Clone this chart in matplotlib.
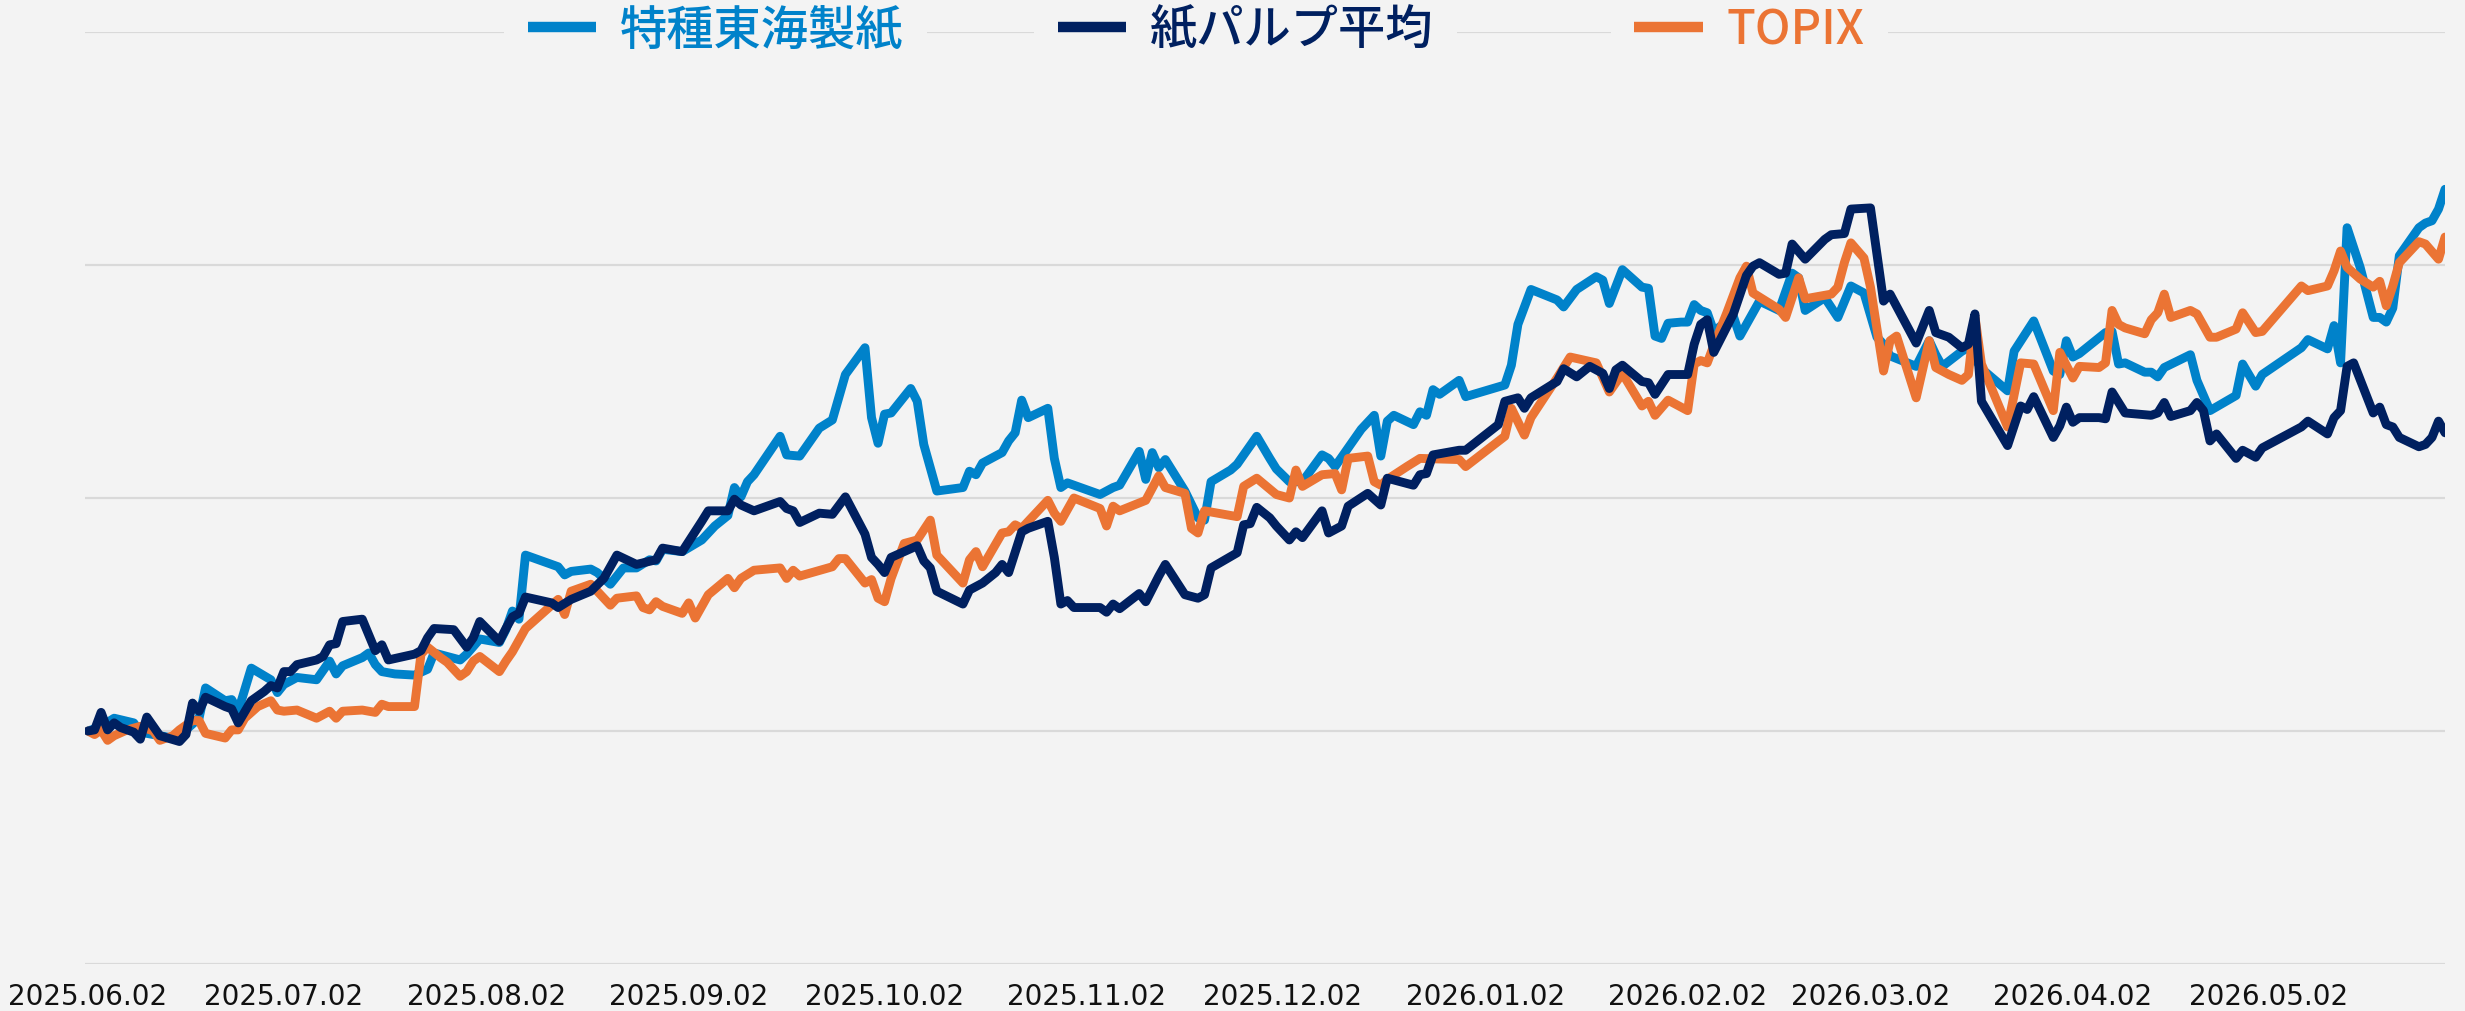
import matplotlib
matplotlib.use('Agg')
import matplotlib.pyplot as plt
import matplotlib.dates as mdates
from matplotlib.font_manager import FontProperties
from matplotlib.lines import Line2D
import pandas as pd

# start of the comparison (index = 100), days counted from here
start = pd.Timestamp('2025-06-02')

labels = ['特種東海製紙', '紙パルプ平均', 'TOPIX']
colors = ['#0082ca', '#002060', '#eb7434']

# 特種東海製紙
tokai_days = [0, 2, 4, 7, 8, 12, 14, 15, 17, 18,
              21, 22, 23, 25, 28, 29, 30, 32, 35, 37,
              38, 39, 42, 43, 44, 45, 47, 50, 52, 53,
              57, 58, 60, 63, 64, 65, 66, 67, 72, 73,
              74, 77, 78, 80, 82, 84, 86, 87, 88, 91,
              94, 96, 98, 99, 100, 101, 102, 106, 107, 109,
              112, 114, 116, 119, 120, 121, 122, 123, 126, 127,
              128, 130, 134, 135, 136, 137, 140, 141, 142, 143,
              144, 147, 148, 149, 150, 155, 157, 158, 161, 162,
              163, 164, 165, 168, 170, 171, 172, 175, 176, 179,
              181, 182, 184, 186, 189, 190, 191, 193, 195, 197,
              198, 199, 200, 203, 204, 205, 206, 207, 210, 211,
              217, 218, 219, 221, 225, 226, 228, 231, 232, 233,
              235, 238, 239, 240, 241, 242, 244, 245, 246, 247,
              248, 249, 252, 253, 256, 259, 261, 262, 263, 266,
              268, 270, 272, 274, 275, 276, 280, 282, 283, 284,
              287, 288, 290, 294, 295, 298, 301, 302, 303, 304,
              305, 309, 310, 311, 312, 315, 316, 317, 318, 322,
              323, 325, 329, 330, 332, 333, 339, 340, 343, 344,
              345, 346, 348, 350, 351, 352, 353, 354, 357, 358,
              359, 360, 361]
tokai_vals = [100.0, 100.4, 101.1, 100.7, 99.9, 99.5, 99.2, 100.1, 101.1, 103.7,
              102.6, 102.7, 101.7, 105.4, 104.4, 103.3, 104.0, 104.6, 104.4, 106.0,
              104.9, 105.6, 106.3, 106.7, 105.7, 105.1, 104.9, 104.8, 105.3, 106.7,
              106.1, 106.6, 107.9, 107.6, 108.7, 110.3, 109.6, 115.1, 114.1, 113.4,
              113.7, 113.9, 113.6, 112.6, 114.0, 114.0, 114.7, 114.6, 115.6, 115.4,
              116.4, 117.6, 118.5, 120.9, 120.1, 121.4, 122.0, 125.3, 123.7, 123.6,
              126.0, 126.7, 130.6, 132.9, 126.9, 124.7, 127.2, 127.3, 129.4, 128.3,
              124.6, 120.6, 120.9, 122.3, 122.0, 123.0, 123.9, 124.9, 125.6, 128.4,
              126.9, 127.7, 123.4, 120.9, 121.3, 120.3, 120.9, 121.1, 124.0, 121.6,
              123.9, 122.6, 123.3, 120.6, 118.3, 118.1, 121.4, 122.4, 122.9, 125.3,
              123.4, 122.5, 121.4, 121.4, 123.7, 123.4, 122.7, 124.3, 125.9, 127.1,
              123.6, 126.6, 127.1, 126.3, 127.4, 127.1, 129.3, 128.9, 130.1, 128.7,
              129.7, 131.4, 134.9, 137.9, 137.0, 136.4, 137.9, 139.0, 138.7, 136.7,
              139.6, 138.1, 138.0, 133.9, 133.7, 135.0, 135.1, 135.1, 136.6, 136.1,
              135.9, 134.3, 135.6, 133.9, 136.9, 136.1, 139.3, 138.9, 136.1, 137.2,
              135.5, 138.2, 137.6, 133.8, 133.2, 132.2, 131.3, 133.5, 132.3, 131.3,
              132.6, 132.9, 131.1, 129.2, 132.6, 135.2, 130.9, 130.6, 133.5, 132.1,
              132.4, 134.2, 134.3, 131.5, 131.6, 130.8, 130.8, 130.4, 131.2, 132.3,
              130.1, 127.5, 128.8, 131.5, 129.6, 130.6, 132.9, 133.6, 132.8, 134.8,
              131.6, 143.2, 139.8, 135.5, 135.5, 135.1, 136.3, 140.8, 143.2, 143.6,
              143.8, 144.8, 146.5]

# 紙パルプ平均
pulp_days = [0, 1, 2, 3, 4, 5, 7, 8, 9, 11,
             14, 15, 16, 17, 18, 21, 22, 23, 25, 27,
             28, 29, 30, 31, 32, 35, 36, 37, 38, 39,
             42, 44, 45, 46, 50, 51, 52, 53, 56, 58,
             59, 60, 63, 64, 65, 66, 67, 71, 72, 74,
             77, 79, 81, 84, 87, 88, 91, 94, 95, 98,
             99, 100, 102, 104, 106, 107, 108, 109, 112, 114,
             116, 119, 120, 121, 122, 123, 127, 128, 129, 130,
             134, 135, 137, 139, 140, 141, 143, 144, 147, 148,
             149, 150, 151, 155, 156, 157, 158, 161, 162, 164,
             165, 168, 170, 171, 172, 176, 177, 178, 179, 181,
             182, 184, 185, 186, 189, 190, 192, 193, 196, 198,
             199, 203, 204, 205, 206, 210, 211, 216, 217, 219,
             220, 221, 225, 226, 228, 230, 232, 233, 234, 235,
             238, 239, 240, 242, 244, 245, 246, 247, 248, 249,
             252, 254, 255, 256, 259, 260, 261, 263, 266, 267,
             269, 270, 273, 275, 276, 280, 282, 283, 285, 287,
             288, 289, 290, 294, 296, 297, 298, 301, 302, 303,
             304, 305, 308, 309, 310, 312, 316, 317, 318, 319,
             322, 323, 324, 325, 326, 329, 330, 332, 333, 339,
             340, 343, 344, 345, 346, 347, 350, 351, 352, 353,
             354, 357, 358, 359, 360, 361]
pulp_vals = [100.0, 100.1, 101.6, 100.1, 100.7, 100.3, 99.9, 99.3, 101.2, 99.6,
             99.1, 99.7, 102.4, 101.7, 102.9, 102.1, 101.9, 100.7, 102.6, 103.4,
             103.9, 103.7, 105.1, 105.1, 105.7, 106.1, 106.4, 107.4, 107.5, 109.4,
             109.6, 106.9, 107.4, 106.1, 106.6, 106.9, 108.0, 108.8, 108.7, 107.2,
             108.0, 109.4, 107.7, 108.8, 109.8, 110.1, 111.5, 111.0, 110.6, 111.3,
             112.0, 113.1, 115.1, 114.3, 114.7, 115.7, 115.4, 118.0, 118.9, 118.9,
             119.9, 119.4, 118.9, 119.3, 119.7, 119.1, 118.9, 117.9, 118.7, 118.6,
             120.1, 116.9, 114.9, 114.3, 113.6, 114.9, 115.9, 114.6, 114.0, 112.0,
             110.9, 112.1, 112.7, 113.6, 114.3, 113.6, 117.1, 117.4, 118.0, 114.9,
             110.9, 111.2, 110.6, 110.6, 110.2, 110.9, 110.5, 111.8, 111.1, 113.3,
             114.3, 111.7, 111.4, 111.7, 114.0, 115.3, 117.7, 117.8, 119.2, 118.3,
             117.6, 116.4, 117.1, 116.6, 118.9, 117.0, 117.6, 119.3, 120.4, 119.4,
             121.7, 121.1, 122.0, 122.1, 123.7, 124.1, 124.1, 126.3, 128.3, 128.6,
             127.7, 128.6, 130.0, 131.1, 130.4, 131.3, 130.7, 129.4, 131.0, 131.4,
             130.0, 129.9, 128.9, 130.6, 130.6, 130.6, 133.2, 134.9, 135.3, 132.5,
             135.8, 139.1, 139.9, 140.2, 139.2, 139.3, 141.8, 140.5, 142.2, 142.6,
             142.7, 144.8, 144.9, 136.9, 137.5, 133.3, 136.1, 134.2, 133.8, 132.9,
             133.2, 135.8, 128.3, 124.5, 127.9, 127.6, 128.7, 125.2, 126.2, 127.8,
             126.5, 126.9, 126.9, 126.8, 129.1, 127.3, 127.1, 127.3, 128.2, 127.0,
             127.5, 128.2, 127.5, 124.9, 125.5, 123.4, 124.1, 123.5, 124.3, 126.1,
             126.6, 125.5, 126.9, 127.5, 131.3, 131.6, 127.3, 127.8, 126.3, 126.1,
             125.2, 124.4, 124.6, 125.2, 126.6, 125.6]

# TOPIX
topix_days = [0, 1, 2, 3, 4, 6, 8, 10, 11, 13,
              14, 16, 17, 18, 21, 22, 23, 24, 26, 28,
              29, 30, 32, 35, 37, 38, 39, 42, 44, 45,
              46, 50, 51, 52, 54, 55, 57, 58, 59, 60,
              63, 64, 65, 66, 67, 72, 73, 74, 77, 78,
              80, 81, 84, 85, 86, 87, 88, 91, 92, 93,
              95, 98, 99, 100, 102, 106, 107, 108, 109, 114,
              115, 116, 119, 120, 121, 122, 123, 125, 127, 129,
              130, 134, 135, 136, 137, 140, 141, 142, 143, 147,
              148, 149, 151, 155, 156, 157, 158, 162, 164, 165,
              168, 169, 170, 171, 176, 177, 179, 182, 184, 185,
              186, 189, 191, 192, 193, 196, 197, 198, 199, 202,
              204, 210, 211, 217, 218, 220, 221, 225, 227, 231,
              233, 235, 238, 239, 240, 242, 244, 245, 246, 247,
              248, 249, 251, 253, 254, 255, 257, 259, 260, 262,
              263, 267, 268, 269, 270, 272, 273, 275, 276, 277,
              280, 282, 283, 285, 287, 288, 289, 290, 294, 296,
              298, 301, 302, 304, 305, 308, 309, 310, 311, 312,
              315, 316, 317, 318, 319, 322, 323, 325, 326, 329,
              330, 332, 333, 339, 340, 343, 344, 345, 346, 348,
              350, 351, 352, 353, 354, 357, 358, 360, 361]
topix_vals = [100.0, 99.7, 100.1, 99.2, 99.6, 100.1, 100.4, 100.0, 99.2, 99.6,
              100.1, 100.9, 100.9, 99.8, 99.4, 100.1, 100.1, 101.1, 102.1, 102.6,
              101.8, 101.7, 101.8, 101.1, 101.7, 101.1, 101.7, 101.8, 101.6, 102.3,
              102.1, 102.1, 106.6, 107.2, 106.3, 105.9, 104.7, 105.1, 106.0, 106.4,
              105.1, 106.0, 106.8, 107.8, 108.8, 111.3, 110.0, 112.0, 112.6, 112.0,
              110.8, 111.4, 111.6, 110.6, 110.4, 111.1, 110.7, 110.1, 111.0, 109.7,
              111.7, 113.1, 112.3, 113.1, 113.8, 114.0, 113.1, 113.8, 113.3, 114.1,
              114.8, 114.8, 112.7, 113.0, 111.4, 111.1, 113.1, 116.1, 116.4, 118.1,
              115.1, 112.7, 114.7, 115.4, 114.1, 117.0, 117.1, 117.7, 117.4, 119.8,
              118.7, 118.0, 120.0, 119.1, 117.6, 119.3, 118.9, 119.8, 121.9, 120.9,
              120.4, 117.4, 117.0, 118.9, 118.4, 121.0, 121.7, 120.3, 120.0, 122.4,
              121.0, 122.0, 122.1, 120.7, 123.4, 123.6, 121.4, 121.1, 121.6, 122.7,
              123.4, 123.3, 122.7, 125.3, 127.7, 125.4, 126.9, 130.3, 132.1, 131.6,
              129.1, 130.7, 127.9, 128.3, 127.1, 128.4, 127.8, 127.5, 131.5, 131.8,
              131.6, 133.1, 135.9, 138.9, 139.9, 137.6, 136.9, 136.2, 135.5, 138.9,
              137.1, 137.5, 138.1, 140.2, 141.9, 140.6, 138.1, 130.9, 133.5, 133.9,
              128.6, 133.5, 131.2, 130.6, 130.1, 130.6, 135.6, 131.5, 126.1, 131.6,
              131.5, 127.5, 132.5, 130.3, 131.3, 131.2, 131.6, 136.1, 134.9, 134.6,
              134.1, 135.3, 135.9, 137.5, 135.5, 136.1, 135.8, 133.8, 133.8, 134.5,
              135.9, 134.2, 134.3, 138.2, 137.8, 138.2, 139.5, 141.2, 139.8, 138.8,
              138.1, 138.6, 136.5, 138.2, 140.2, 142.0, 141.8, 140.5, 142.4]

tick_dates = pd.date_range(start, periods=12, freq=pd.DateOffset(months=1))
y_grid = [80, 100, 120, 140, 160]

bg = '#f3f3f3'
fig = plt.figure(figsize=(24.65, 10.12), dpi=100, facecolor=bg)
ax = fig.add_axes([0.0345, 0.0464, 0.9574, 0.921])
ax.set_facecolor(bg)

series = [(tokai_days, tokai_vals), (pulp_days, pulp_vals), (topix_days, topix_vals)]
order = [0, 2, 1]  # navy on top
for i in order:
    d, v = series[i]
    x = start + pd.to_timedelta(d, unit='D')
    ax.plot(x, v, color=colors[i], lw=6.4, solid_joinstyle='round',
            solid_capstyle='round', zorder=3 + order.index(i))

ax.set_xlim(start - pd.Timedelta(hours=11), start + pd.Timedelta(days=361))
ax.set_ylim(y_grid[0], y_grid[-1])
ax.set_yticks(y_grid)
ax.yaxis.grid(True, color='#d9d9d9', lw=1.6)
ax.set_axisbelow(True)
ax.tick_params(axis='y', length=0, labelleft=False)

ax.set_xticks(tick_dates)
ax.xaxis.set_major_formatter(mdates.DateFormatter('%Y.%m.%d'))
ax.tick_params(axis='x', length=0, pad=13, labelsize=20, labelcolor='#111111')
for s in ax.spines.values():
    s.set_visible(False)

# legend entries, each on its own background patch over the top gridline
fp = FontProperties(family=['Noto Sans CJK JP', 'DejaVu Sans'], size=34, weight='medium')
lx = [0.2045, 0.4195, 0.6535]
for i, x0 in enumerate(lx):
    h = Line2D([], [], color=colors[i], lw=7.5, solid_capstyle='butt')
    fig.legend(handles=[h], labels=[labels[i]], loc='center left',
               bbox_to_anchor=(x0, 0.969), borderaxespad=0, frameon=True,
               facecolor=bg, edgecolor='none', framealpha=1, prop=fp,
               handlelength=1.45, handletextpad=0.5, borderpad=0.5,
               labelcolor=colors[i], fancybox=False)

fig.savefig('out.png', dpi=100, facecolor=bg)
